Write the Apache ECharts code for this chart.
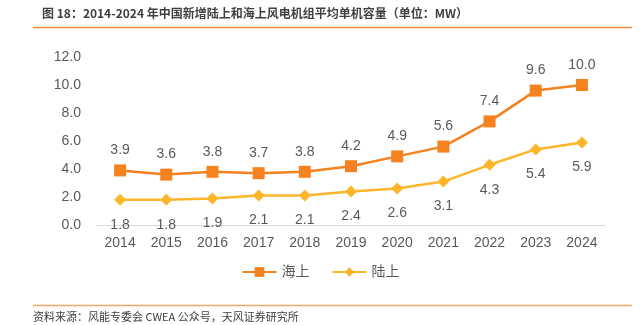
<!DOCTYPE html>
<html><head><meta charset="utf-8">
<script src="https://cdn.jsdelivr.net/npm/echarts@6/dist/echarts.min.js"></script>
<style>html,body{margin:0;padding:0;background:#fff}#c{width:641px;height:325px}</style>
</head><body><div id="c"></div>
<script>
const years = ['2014','2015','2016','2017','2018','2019','2020','2021','2022','2023','2024'];
const offshore = [3.9,3.6,3.8,3.7,3.8,4.2,4.9,5.6,7.4,9.6,10.0];
const onshore = [1.8,1.8,1.9,2.1,2.1,2.4,2.6,3.1,4.3,5.4,5.9];
const titleText = '图 18：2014-2024 年中国新增陆上和海上风电机组平均单机容量（单位：MW）';
const sourceText = '资料来源：风能专委会 CWEA 公众号，天风证券研究所';
const FONT = '"Liberation Sans","Noto Sans CJK SC",sans-serif';
const chart = echarts.init(document.getElementById('c'), null, {renderer:'canvas'});
chart.setOption({
  animation:false,
  textStyle:{fontFamily:FONT},
  graphic:[
    {type:'text',left:42,top:7,style:{text:titleText,font:'bold 12px "Noto Sans CJK SC",sans-serif',fill:'#404040'}},
    {type:'line',shape:{x1:33,y1:27.5,x2:632,y2:27.5},style:{stroke:'#F08A3C',lineWidth:1.5}},
    {type:'line',shape:{x1:33,y1:305.5,x2:632,y2:305.5},style:{stroke:'#F5A66A',lineWidth:1.5}},
    {type:'text',left:33,top:311,style:{text:sourceText,font:'11px "Noto Sans CJK SC",sans-serif',fill:'#404040'}}
  ],
  grid:{left:97,right:36,top:57,bottom:100,containLabel:false},
  legend:{bottom:41,left:'center',itemWidth:34,itemHeight:12,itemGap:22,
    textStyle:{fontSize:14,color:'#595959',fontFamily:FONT},
    data:['海上','陆上']},
  xAxis:{type:'category',data:years,boundaryGap:true,
    axisLine:{lineStyle:{color:'#D9D9D9',width:1}},axisTick:{show:false},
    axisLabel:{fontSize:14,color:'#595959',margin:11}},
  yAxis:{type:'value',min:0,max:12,interval:2,
    axisLine:{show:false},axisTick:{show:false},splitLine:{show:false},
    axisLabel:{fontSize:14,color:'#595959',margin:16,formatter:v=>v.toFixed(1)}},
  series:[
    {name:'海上',type:'line',data:offshore,color:'#F4821E',symbol:'rect',symbolSize:12,
      lineStyle:{width:2.5},
      label:{show:true,position:'top',distance:7,fontSize:14,color:'#595959',formatter:p=>p.value.toFixed(1)}},
    {name:'陆上',type:'line',data:onshore,color:'#FDB52A',symbol:'diamond',symbolSize:12,
      lineStyle:{width:2.5},
      label:{show:true,position:'bottom',distance:12,fontSize:14,color:'#595959',formatter:p=>p.value.toFixed(1)}}
  ]
});
</script></body></html>
